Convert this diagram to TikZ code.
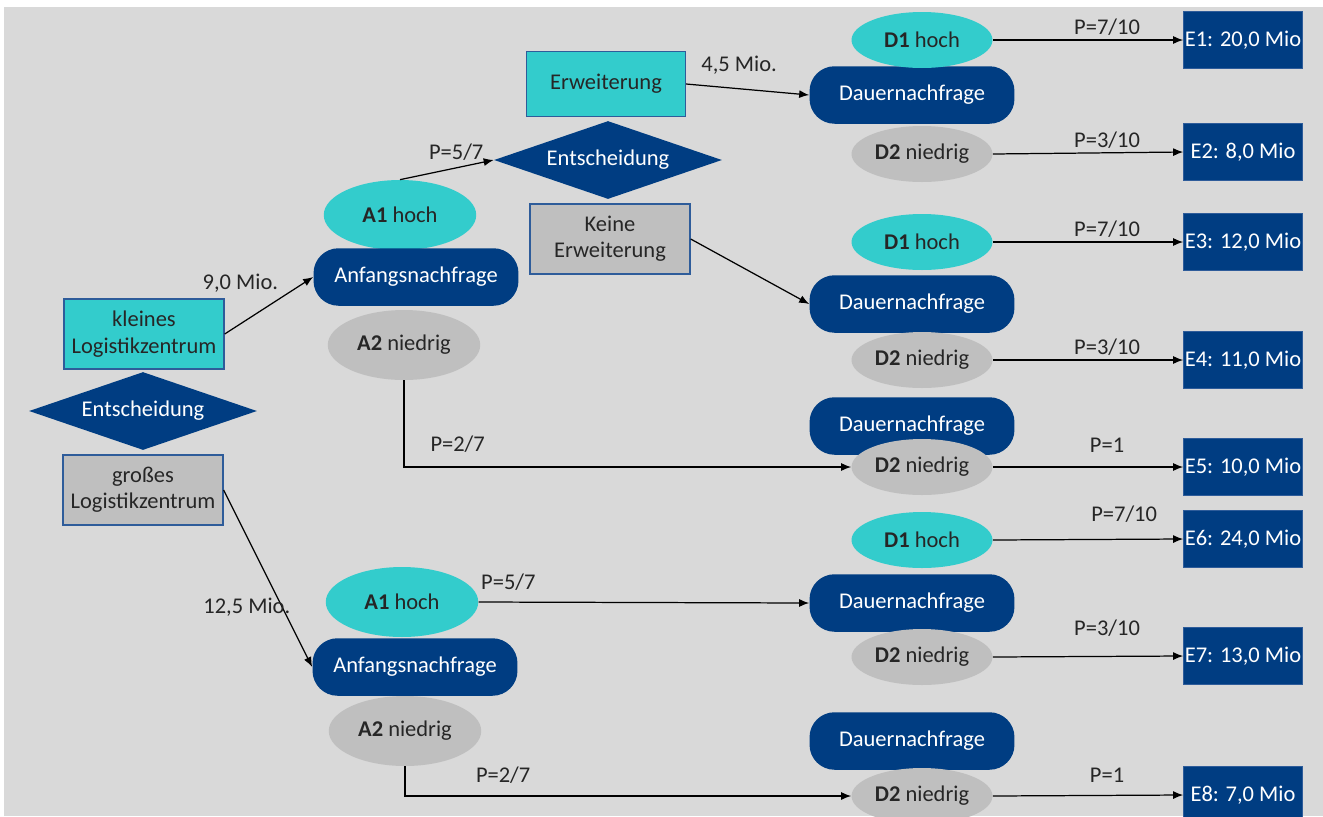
\documentclass[tikz,border=0pt]{standalone}
\usepackage{fontspec}
\setmainfont{Carlito}
\usetikzlibrary{shapes.geometric,arrows.meta}
\definecolor{hintergrund}{HTML}{D9D9D9}
\definecolor{tuerkis}{HTML}{33CCCC}
\definecolor{dunkelblau}{HTML}{003D82}
\definecolor{hellgrau}{HTML}{BFBFBF}
\definecolor{rahmen}{HTML}{2E5C9A}
\definecolor{schrift}{HTML}{262626}

\begin{document}
\begin{tikzpicture}[x=0.02cm, y=-0.02cm,
    every node/.style={font=\fontsize{12.8}{15}\selectfont, text=schrift},
    wahl/.style={draw=rahmen, line width=0.8pt, minimum width=3.2cm, minimum height=1.4cm, align=center, inner sep=1pt},
    raute/.style={diamond, fill=dunkelblau, text=white, aspect=2.9, inner sep=1pt, minimum width=4.56cm, minimum height=1.56cm},
    nachfrage/.style={rectangle, rounded corners=0.5cm, fill=dunkelblau, text=white, minimum width=4.1cm, minimum height=1.15cm},
    zustand/.style={ellipse, inner sep=0pt, minimum width=2.82cm, minimum height=1.12cm},
    anfang/.style={ellipse, inner sep=0pt, minimum width=3.05cm, minimum height=1.4cm},
    ergebnis/.style={fill=dunkelblau, draw=rahmen, text=white, inner sep=0pt, minimum width=2.38cm, minimum height=1.14cm},
    lbl/.style={inner sep=2pt, text=schrift},
    pfeil/.style={-{Latex[length=2mm,width=1.6mm]}, line width=0.7pt}]

    % Draw background
    \useasboundingbox (0,0) rectangle (1323,816);
    \clip (0,0) rectangle (1323,816);
    \fill [hintergrund] (4,7) rectangle (1323,816);

    % Draw first decision
    \node [wahl, fill=tuerkis] (klein) at (144,334) {kleines\\Logistikzentrum};
    \node [raute] (ent1) at (143,411) {Entscheidung};
    \node [wahl, fill=hellgrau] (gross) at (143,490) {großes\\Logistikzentrum};

    % Draw initial demand, small centre
    \node [anfang, fill=tuerkis] (a1o) at (400,215) {\textbf{A1} hoch};
    \node [nachfrage] (anf1) at (416,277) {Anfangsnachfrage};
    \node [anfang, fill=hellgrau] (a2o) at (404,345) {\textbf{A2} niedrig};

    % Draw second decision
    \node [wahl, fill=tuerkis, minimum width=3.18cm, minimum height=1.3cm] (erw) at (606,84) {Erweiterung};
    \node [raute] (ent2) at (608,160) {Entscheidung};
    \node [wahl, fill=hellgrau] (keine) at (610,239) {Keine\\Erweiterung};

    % Draw initial demand, large centre
    \node [anfang, fill=tuerkis] (a1u) at (402,602) {\textbf{A1} hoch};
    \node [nachfrage] (anf2) at (415,667) {Anfangsnachfrage};
    \node [anfang, fill=hellgrau] (a2u) at (405,731) {\textbf{A2} niedrig};

    % Draw lasting demand
    \node [nachfrage] (dn1) at (912,95) {Dauernachfrage};
    \node [nachfrage] (dn2) at (912,304) {Dauernachfrage};
    \node [nachfrage] (dn3) at (912,426) {Dauernachfrage};
    \node [nachfrage] (dn4) at (912,603) {Dauernachfrage};
    \node [nachfrage] (dn5) at (912,741) {Dauernachfrage};
    \node [zustand, fill=tuerkis] (d1a) at (922,40) {\textbf{D1} hoch};
    \node [zustand, fill=hellgrau] (d2a) at (922,154) {\textbf{D2} niedrig};
    \node [zustand, fill=tuerkis] (d1b) at (922,242) {\textbf{D1} hoch};
    \node [zustand, fill=hellgrau] (d2b) at (922,360) {\textbf{D2} niedrig};
    \node [zustand, fill=hellgrau] (d2c) at (922,467) {\textbf{D2} niedrig};
    \node [zustand, fill=tuerkis] (d1d) at (922,540) {\textbf{D1} hoch};
    \node [zustand, fill=hellgrau] (d2d) at (922,657) {\textbf{D2} niedrig};
    \node [zustand, fill=hellgrau] (d2e) at (922,796) {\textbf{D2} niedrig};

    % Draw results
    \node [ergebnis] (e1) at (1243,40) {E1: 20,0 Mio};
    \node [ergebnis] (e2) at (1243,152) {E2: 8,0 Mio};
    \node [ergebnis] (e3) at (1243,242) {E3: 12,0 Mio};
    \node [ergebnis] (e4) at (1243,360) {E4: 11,0 Mio};
    \node [ergebnis] (e5) at (1243,467) {E5: 10,0 Mio};
    \node [ergebnis] (e6) at (1243,539) {E6: 24,0 Mio};
    \node [ergebnis] (e7) at (1243,656) {E7: 13,0 Mio};
    \node [ergebnis] (e8) at (1243,795) {E8: 7,0 Mio};

    % Draw branches
    \draw [pfeil] (klein.east) -- node [lbl, pos=0.65, above left] {9,0 Mio.} (anf1.west);
    \draw [pfeil] (gross.east) -- node [lbl, pos=0.66, left=-7pt] {12,5 Mio.} (anf2.west);
    \draw [pfeil] (a1o.north) -- node [lbl, pos=0.6, above=2pt] {P=5/7} (ent2.west);
    \draw [pfeil] (a2o.south) |- node [lbl, pos=0.56, above=6pt] {P=2/7} (d2c.west);
    \draw [pfeil] (erw.east) -- node [lbl, pos=0.43, above=6pt] {4,5 Mio.} (dn1.west);
    \draw [pfeil] (keine.east) -- (dn2.west);
    \draw [pfeil] (a1u.east) -- node [lbl, pos=0.09, above=4pt] {P=5/7} (dn4.west);
    \draw [pfeil] (a2u.south) |- node [lbl, pos=0.61, above=5pt] {P=2/7} (d2e.west);
    \draw [pfeil] (d1a.east) -- node [lbl, pos=0.6, above] {P=7/10} (e1.west);
    \draw [pfeil] (d2a.east) -- node [lbl, pos=0.6, above] {P=3/10} (e2.west);
    \draw [pfeil] (d1b.east) -- node [lbl, pos=0.6, above] {P=7/10} (e3.west);
    \draw [pfeil] (d2b.east) -- node [lbl, pos=0.6, above] {P=3/10} (e4.west);
    \draw [pfeil] (d2c.east) -- node [lbl, pos=0.6, above=6pt] {P=1} (e5.west);
    \draw [pfeil] (d1d.east) -- node [lbl, pos=0.69, above=7pt] {P=7/10} (e6.west);
    \draw [pfeil] (d2d.east) -- node [lbl, pos=0.6, above=9pt] {P=3/10} (e7.west);
    \draw [pfeil] (d2e.east) -- node [lbl, pos=0.6, above=5pt] {P=1} (e8.west);
\end{tikzpicture}
\end{document}
